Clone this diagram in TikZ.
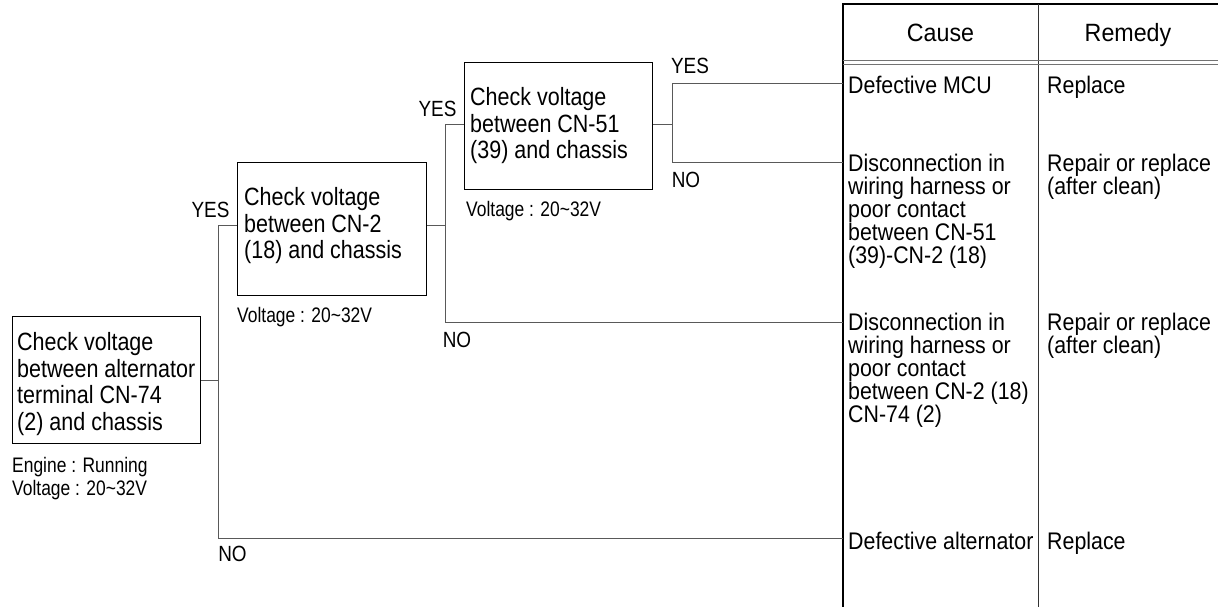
\documentclass[tikz,border=0pt]{standalone}
\usepackage{fontspec}
\setmainfont{Liberation Sans}
\newfontfamily\boxfont{Liberation Sans}[FakeStretch=0.86]
\newfontfamily\tabfont{Liberation Sans}[FakeStretch=0.89]
\newfontfamily\smlfont{Liberation Sans}[FakeStretch=0.83]
\newfontfamily\hdrfont{Liberation Sans}[FakeStretch=0.93]
\begin{document}
\begin{tikzpicture}[x=1pt,y=-1pt,
  chkbox/.style={draw=black, line width=1.1pt, inner sep=0pt, anchor=north west},
  conn/.style={draw=black!65, line width=0.9pt},
  btxt/.style={font=\boxfont\fontsize{25}{26.7}\selectfont, align=left, inner sep=0pt, anchor=north west},
  ttxt/.style={font=\tabfont\fontsize{24}{22.9}\selectfont, align=left, inner sep=0pt, anchor=north west},
  stxt/.style={font=\smlfont\fontsize{21}{22.3}\selectfont, align=left, inner sep=0pt, anchor=north west},
  lbl/.style={font=\boxfont\fontsize{22}{24}\selectfont, inner sep=0pt},
  hdr/.style={font=\hdrfont\fontsize{25}{26}\selectfont, inner sep=0pt, anchor=base},
  tline/.style={draw=black, line width=1.3pt},
  tthin/.style={draw=black!80, line width=0.8pt},
  tdbl/.style={draw=black!55, line width=0.8pt}]
\useasboundingbox (0,0) rectangle (1218,607);

% boxes
\node[chkbox, minimum width=188pt, minimum height=127pt] (b1) at (12,316) {};
\node[chkbox, minimum width=189pt, minimum height=133pt] (b2) at (237,162) {};
\node[chkbox, minimum width=188pt, minimum height=127pt] (b3) at (464,62) {};

\node[btxt] (t1) at (17,332) {Check voltage\\between alternator\\terminal CN-74\\(2) and chassis};
\node[btxt] (t2) at (244,187) {Check voltage\\between CN-2\\(18) and chassis};
\node[btxt] (t3) at (470,87) {Check voltage\\between CN-51\\(39) and chassis};

\node[stxt] (s1) at (12,457.5) {Engine : Running\\Voltage : 20\textasciitilde 32V};
\node[stxt] (s2) at (237,307) {Voltage : 20\textasciitilde 32V};
\node[stxt] (s3) at (466,201) {Voltage : 20\textasciitilde 32V};

% table
\draw[tline] (843,607) -- (843,4) -- (1218,4);
\draw[tthin] (1038,4) -- (1038,607);
\draw[tdbl] (843,60) -- (1218,60);
\draw[tdbl] (843,64) -- (1218,64);
\node[hdr] (hc) at (940.5,42) {Cause};
\node[hdr] (hr) at (1128,42) {Remedy};

\coordinate (r1) at (843,83);
\coordinate (r2) at (843,162);
\coordinate (r3) at (843,322);
\coordinate (r4) at (843,538);
\coordinate (v1) at (218,0);
\coordinate (v2) at (445,0);
\coordinate (v3) at (672,0);

\node[ttxt] (c1) at (848,76) {Defective MCU};
\node[ttxt] (m1) at (1047,76) {Replace};
\node[ttxt] (c2) at (848,154) {Disconnection in\\wiring harness or\\poor contact\\between CN-51\\(39)-CN-2 (18)};
\node[ttxt] (m2) at (1047,154) {Repair or replace\\(after clean)};
\node[ttxt] (c3) at (848,313) {Disconnection in\\wiring harness or\\poor contact\\between CN-2 (18)\\CN-74 (2)};
\node[ttxt] (m3) at (1047,313) {Repair or replace\\(after clean)};
\node[ttxt] (c4) at (848,532) {Defective alternator};
\node[ttxt] (m4) at (1047,532) {Replace};

% connectors
\draw[conn] (b1.east) -- (b1.east -| v1);
\draw[conn] (b2.west) ++(0,-4) coordinate (b2in) -- (b2in -| v1) -- (v1 |- r4) -- (r4);
\draw[conn] (b2.east) ++(0,-4) coordinate (b2out) -- (b2out -| v2);
\draw[conn] (b3.west) ++(0,-2) coordinate (b3in) -- (b3in -| v2) -- (v2 |- r3) -- (r3);
\draw[conn] (b3.east) ++(0,-2) coordinate (b3out) -- (b3out -| v3);
\draw[conn] (r1) -- (r1 -| v3) -- (v3 |- r2) -- (r2);

% labels
\node[lbl] (y1) at (210.5,210) {YES};
\node[lbl] (n1) at (232.5,554) {NO};
\node[lbl] (y2) at (437.5,109) {YES};
\node[lbl] (n2) at (457,340) {NO};
\node[lbl] (y3) at (690,66) {YES};
\node[lbl] (n3) at (686,179.5) {NO};
\end{tikzpicture}
\end{document}
